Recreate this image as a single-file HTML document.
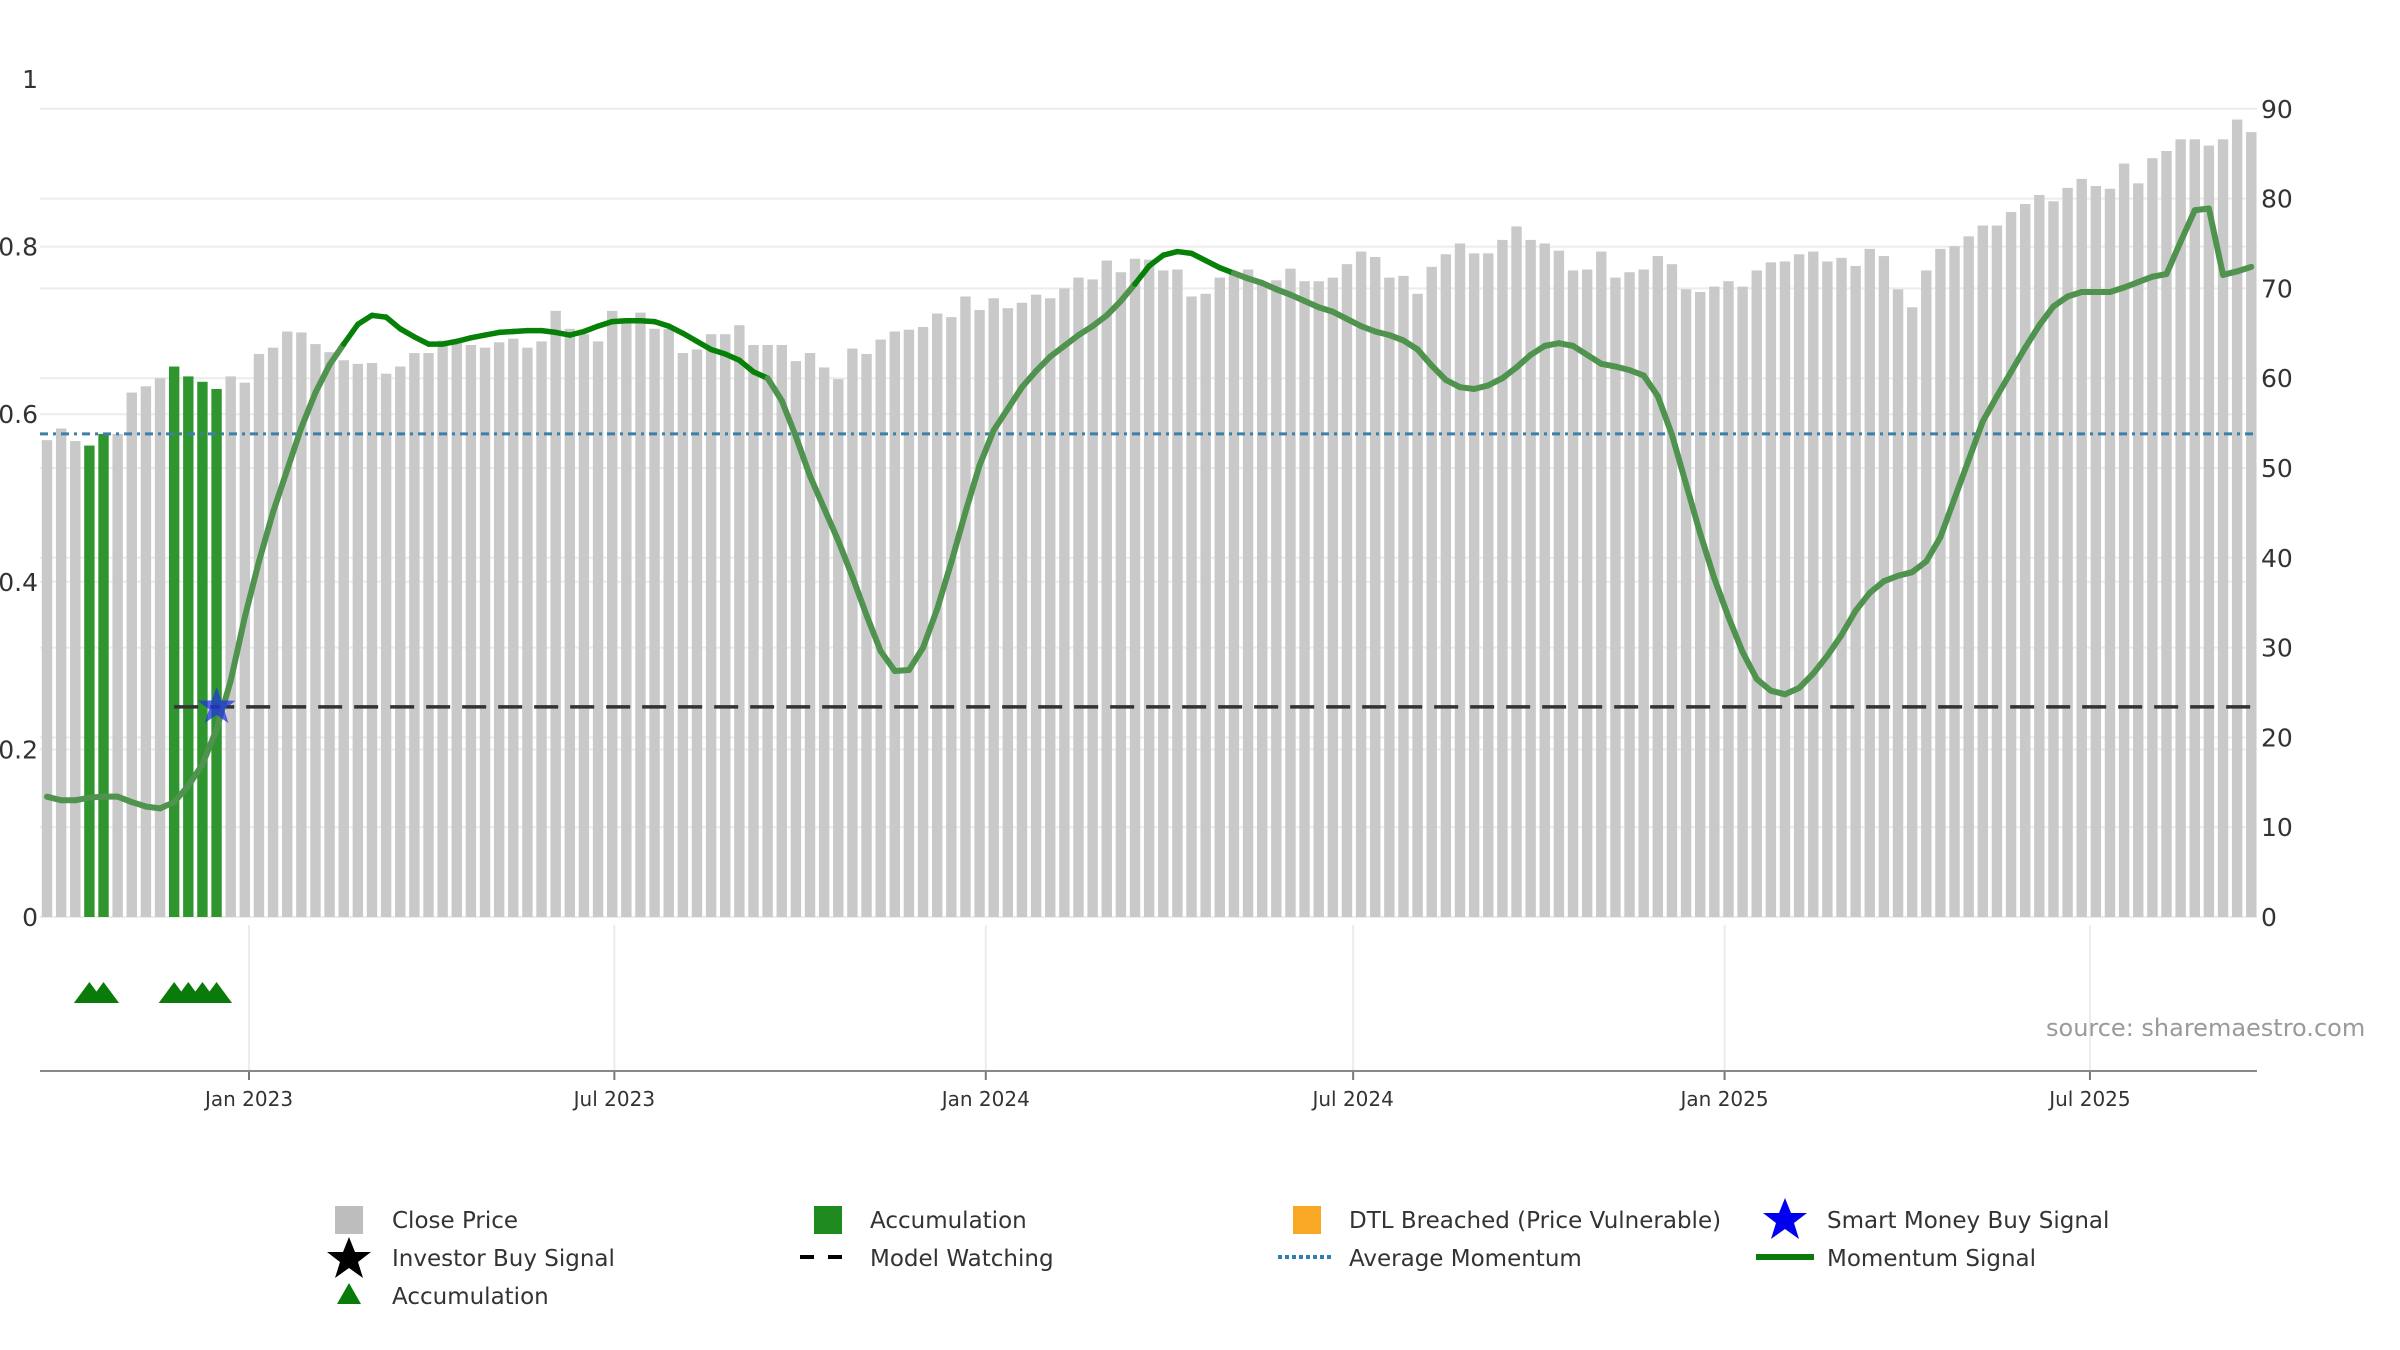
<!DOCTYPE html>
<html><head><meta charset="utf-8"><style>
html,body{margin:0;padding:0;background:#fff;}
svg{display:block;font-family:"DejaVu Sans","Liberation Sans",sans-serif;}
</style></head><body>
<svg id="chart" width="2400" height="1350" viewBox="0 0 2400 1350" xmlns="http://www.w3.org/2000/svg">
<g id="grid"></g>
<g id="bars"></g>
<g id="overlay"></g>
<g id="axes"></g>
<text x="2046" y="1036" font-size="24" fill="#9a9a9a">source: sharemaestro.com</text>
<g id="legend">
  <rect x="335" y="1206" width="28" height="28" fill="#bdbdbd"/>
  <text x="392" y="1228" font-size="23" fill="#333">Close Price</text>
  <rect x="814" y="1206" width="28" height="28" fill="#1f8a1f"/>
  <text x="870" y="1228" font-size="23" fill="#333">Accumulation</text>
  <rect x="1293" y="1206" width="28" height="28" fill="#f9a825"/>
  <text x="1349" y="1228" font-size="23" fill="#333">DTL Breached (Price Vulnerable)</text>
  <polygon points="1785,1198 1791,1213 1807,1213 1794,1223 1799,1239 1785,1229 1771,1239 1776,1223 1763,1213 1779,1213" fill="#0000ee"/>
  <text x="1827" y="1228" font-size="23" fill="#333">Smart Money Buy Signal</text>
  <polygon points="349,1237 355,1252 371,1252 358,1262 363,1278 349,1268 335,1278 340,1262 327,1252 343,1252" fill="#000"/>
  <text x="392" y="1266" font-size="23" fill="#333">Investor Buy Signal</text>
  <line x1="800" y1="1257" x2="856" y2="1257" stroke="#000" stroke-width="4" stroke-dasharray="14,14"/>
  <text x="870" y="1266" font-size="23" fill="#333">Model Watching</text>
  <line x1="1278" y1="1257" x2="1334" y2="1257" stroke="#2f7fb0" stroke-width="4" stroke-dasharray="4,3"/>
  <text x="1349" y="1266" font-size="23" fill="#333">Average Momentum</text>
  <line x1="1756" y1="1257" x2="1814" y2="1257" stroke="#0a7a0a" stroke-width="6"/>
  <text x="1827" y="1266" font-size="23" fill="#333">Momentum Signal</text>
  <polygon points="349,1283 361,1304 337,1304" fill="#0a7a0a"/>
  <text x="392" y="1304" font-size="23" fill="#333">Accumulation</text>
</g>
</svg>
<script>
const closePrice = [53.1,54.4,53.0,52.5,53.8,53.8,58.4,59.1,60.0,61.3,60.2,59.6,58.8,60.2,59.5,62.7,63.4,65.2,65.1,63.8,62.9,62.0,61.6,61.7,60.5,61.3,62.8,62.8,64.2,64.1,63.7,63.4,64.0,64.4,63.4,64.1,67.5,65.5,64.9,64.1,67.5,66.6,67.3,65.5,65.5,62.8,63.2,64.9,64.9,65.9,63.7,63.7,63.7,61.9,62.8,61.2,59.9,63.3,62.7,64.3,65.2,65.4,65.7,67.2,66.8,69.1,67.6,68.9,67.8,68.4,69.3,68.9,70.0,71.2,71.0,73.1,71.8,73.3,73.2,72.0,72.1,69.1,69.4,71.2,71.6,72.1,70.7,70.9,72.2,70.8,70.8,71.2,72.7,74.1,73.5,71.2,71.4,69.4,72.4,73.8,75.0,73.9,73.9,75.4,76.9,75.4,75.0,74.2,72.0,72.1,74.1,71.2,71.8,72.1,73.6,72.7,69.9,69.6,70.2,70.8,70.2,72.0,72.9,73.0,73.8,74.1,73.0,73.4,72.5,74.4,73.6,69.9,67.9,72.0,74.4,74.7,75.8,77.0,77.0,78.5,79.4,80.4,79.7,81.2,82.2,81.4,81.1,83.9,81.7,84.5,85.3,86.6,86.6,85.9,86.6,88.8,87.4];
const momentum = [13.4,13.0,13.0,13.3,13.4,13.4,12.8,12.3,12.1,12.8,14.6,17.0,20.9,26.3,33.4,39.6,45.1,49.8,54.5,58.4,61.5,63.8,66.0,67.0,66.8,65.5,64.6,63.8,63.8,64.1,64.5,64.8,65.1,65.2,65.3,65.3,65.1,64.8,65.2,65.8,66.3,66.4,66.4,66.3,65.8,65.0,64.1,63.2,62.7,62.0,60.7,60.0,57.5,53.5,49.1,45.5,41.9,37.9,33.6,29.6,27.4,27.5,30.0,34.3,39.5,45.1,50.3,54.2,56.6,59.0,60.8,62.4,63.6,64.8,65.8,67.0,68.6,70.5,72.5,73.7,74.1,73.9,73.1,72.3,71.7,71.1,70.6,69.9,69.3,68.6,67.9,67.4,66.6,65.8,65.2,64.8,64.2,63.2,61.4,59.8,59.0,58.8,59.2,60.0,61.2,62.6,63.6,63.9,63.6,62.6,61.6,61.3,60.9,60.3,58.0,53.7,48.2,42.7,37.7,33.4,29.5,26.5,25.2,24.8,25.5,27.1,29.1,31.4,34.1,36.1,37.4,38.0,38.4,39.6,42.3,46.6,50.9,55.2,58.0,60.7,63.4,65.9,68.0,69.1,69.6,69.6,69.6,70.1,70.7,71.3,71.6,75.2,78.7,78.9,71.5,71.9,72.4];
const accumulationBars = [4,5,10,11,12,13];
const strongRanges = [[22,52],[78,85]];
const averageMomentum = 53.8;
const modelWatching = 23.4;
const modelWatchingStart = 10;
const smartMoneyBar = 13;
const leftTicks = [0,0.2,0.4,0.6,0.8,1];
const leftTickLabels = ["0","0.2","0.4","0.6","0.8","1"];
const rightTicks = [0,10,20,30,40,50,60,70,80,90];
const dateTicks = ["2023-01-01","2023-07-01","2024-01-01","2024-07-01","2025-01-01","2025-07-01"];
const dateTickLabels = ["Jan 2023","Jul 2023","Jan 2024","Jul 2024","Jan 2025","Jul 2025"];

const NS="http://www.w3.org/2000/svg";
const Y0=917, PXU=8.98, X0=47, PITCH=14.13, BW=10.4, XR=2257;
function yR(v){return Y0 - v*PXU;}
function yL(v){return Y0 - v*(917-79);}
function xI(i){return X0 + (i-1)*PITCH;}
function xD(s){const d=(new Date(s+"T00:00:00Z")-new Date("2023-01-01T00:00:00Z"))/86400000;return 249 + d/7*PITCH;}
function mk(tag,attrs,parent){const e=document.createElementNS(NS,tag);for(const k in attrs)e.setAttribute(k,attrs[k]);parent.appendChild(e);return e;}
const grid=document.getElementById('grid'),bars=document.getElementById('bars'),ov=document.getElementById('overlay'),ax=document.getElementById('axes');

rightTicks.forEach(t=>{
  const l=mk('line',{x1:40,x2:XR,y1:yR(t),y2:yR(t),stroke:'#ececec','stroke-width':2},grid);
  
  
  const tx=mk('text',{x:2261,y:yR(t)+9,'font-size':25,fill:'#333'},ax);
  tx.textContent=String(t);
  
  
});
leftTicks.forEach((t,k)=>{
  if(t>0&&t<1){const l=mk('line',{x1:40,x2:XR,y1:yL(t),y2:yL(t),stroke:'#ececec','stroke-width':2},grid);
  
  }
  const tx=mk('text',{x:38,y:yL(t)+9,'font-size':25,fill:'#333','text-anchor':'end'},ax);
  tx.textContent=leftTickLabels[k];
  
  
});
dateTicks.forEach((d,k)=>{
  const x=xD(d);
  const g=mk('line',{x1:x,x2:x,y1:925,y2:1071,stroke:'#ececec','stroke-width':2},grid);
  
  
  const t=mk('line',{x1:x,x2:x,y1:1071,y2:1080,stroke:'#777','stroke-width':2},ax);
  
  
  const tx=mk('text',{x:x,y:1106,'font-size':20,fill:'#333','text-anchor':'middle'},ax);
  tx.textContent=dateTickLabels[k];
  
  
});
const axl=mk('line',{x1:40,x2:XR,y1:1071,y2:1071,stroke:'#888','stroke-width':2},ax);



closePrice.forEach((v,k)=>{
  const i=k+1, acc=accumulationBars.includes(i);
  const r=mk('rect',{x:xI(i)-BW/2,y:yR(v),width:BW,height:Y0-yR(v),fill:acc?'#2f962f':'#c9c9c9'},bars);
  
  
});

const avg=mk('line',{x1:40,x2:XR,y1:yR(averageMomentum),y2:yR(averageMomentum),stroke:'#3d7fa8','stroke-width':3,'stroke-dasharray':'8,5,3,5'},ov);


const mw=mk('line',{x1:xI(modelWatchingStart),x2:XR-2,y1:yR(modelWatching),y2:yR(modelWatching),stroke:'#333','stroke-width':3.5,'stroke-dasharray':'24,12'},ov);



function strong(i){return strongRanges.some(r=>i>=r[0]&&i<r[1]);}
for(let k=0;k<momentum.length-1;k++){
  const i=k+1, s=strong(i);
  const seg=mk('line',{x1:xI(i),y1:yR(momentum[k]),x2:xI(i+1),y2:yR(momentum[k+1]),stroke:s?'#078007':'#4f934f','stroke-width':s?5.5:6,'stroke-linecap':'round'},ov);
  
  
}

function star(cx,cy,R,r){let p=[];for(let j=0;j<10;j++){const a=-Math.PI/2+j*Math.PI/5,rr=j%2?r:R;p.push((cx+rr*Math.cos(a)).toFixed(1)+','+(cy+rr*Math.sin(a)).toFixed(1));}return p.join(' ');}
const st=mk('polygon',{points:star(xI(smartMoneyBar),yR(modelWatching),20,8),fill:'#2233dd','fill-opacity':0.75},ov);



accumulationBars.forEach(i=>{
  const x=xI(i);
  const tri=mk('polygon',{points:`${x},982 ${x+15.5},1003 ${x-15.5},1003`,fill:'#0a7a0a'},ov);
  
  
});
</script>
</body></html>
